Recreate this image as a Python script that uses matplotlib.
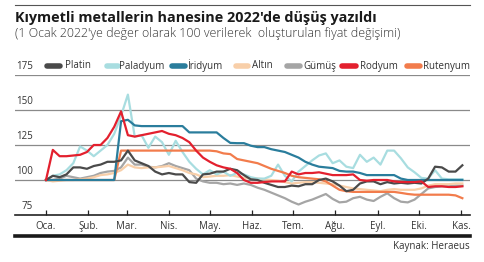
import numpy as np
import matplotlib
matplotlib.use('Agg')
import matplotlib.pyplot as plt
from matplotlib.lines import Line2D

plt.rcParams['font.family'] = ['Open Sans', 'DejaVu Sans']

# days since 1 Jan 2022, one reading every 5 days
days = np.arange(0, 306, 5)

platin = [100, 103, 102, 104, 109, 109, 108, 110, 111, 113,
          113, 114, 121, 114, 112, 110, 106, 104, 105, 104,
          104, 98.5, 98, 104, 104.5, 106, 106, 108, 107, 103.5,
          100.5, 100, 98, 96.5, 95, 95, 96, 95.5, 97, 97,
          100, 101, 99, 96, 92, 93, 97.5, 99, 99, 97,
          98.5, 97.5, 98, 97.5, 98, 97.5, 101, 109.5, 109, 106,
          106, 110.5]
paladyum = [100, 103, 104, 107, 112, 124, 121, 117, 121, 125,
            133, 146, 161, 131, 132, 123, 131, 127, 118, 128,
            120, 113, 108, 104, 107, 104, 106, 103, 105, 104,
            102, 101, 101, 103, 111, 103, 99, 106, 110, 114,
            117.5, 119, 112, 114, 109.5, 108.5, 118, 113, 116, 111,
            121, 121, 115.5, 109, 105.5, 101.5, 101, 107, 101, 100.5,
            100.5, 100.5]
iridyum = [100, 100, 100, 100, 100, 100, 100, 100, 100, 100,
           100, 142, 143, 139, 138.5, 138.5, 138.5, 138.5, 138.5, 138.5,
           138.5, 134, 134, 134, 134, 134, 130, 126.5, 126.3, 126.3,
           124.5, 123.5, 123.5, 122, 121, 120, 118, 116, 113, 111,
           109.5, 109, 108.5, 106.5, 106, 106, 105, 103.5, 103.5, 103.5,
           103.5, 103.5, 101, 100, 100, 100, 100, 100, 100, 100,
           100, 100]
altin = [100, 99, 99.5, 100, 100, 100.5, 101, 102, 103.5, 104,
         105, 107, 111, 109, 108.5, 109, 109, 109.5, 110, 108.5,
         107, 105, 104, 102, 102.5, 103, 103, 103.5, 102.5, 101.5,
         101, 101, 100.5, 100, 99.5, 98.5, 97.5, 98, 98.5, 98.5,
         98, 97.5, 97, 96, 95, 94, 93.5, 93, 92.5, 92,
         93, 93.5, 93, 93, 93, 94, 96, 97, 97, 97,
         97.5, 97.5]
gumus = [100, 100, 101, 103, 102, 101, 102, 103, 105, 106,
         106.5, 109, 116, 111, 111, 109.5, 109, 110, 112, 110,
         108.5, 107, 101, 99, 98, 98, 97, 97.5, 96.5, 97.5,
         96.5, 94.5, 93, 91, 89, 87, 84.5, 82.5, 84.5, 86,
         88, 90, 86.5, 84, 84.5, 87, 88, 86, 85, 88,
         90.5, 87, 84.5, 84, 86, 90, 94, 95, 95.5, 95.5,
         96, 96]
rodyum = [100, 121.5, 117, 117, 117.5, 118, 120, 125, 125, 130,
          138, 149, 132, 131, 132, 133, 134, 135, 133, 132,
          130, 127, 121, 116, 113, 110.5, 109, 108, 105, 100,
          98, 98, 98.5, 99, 99, 99, 106, 104, 105, 105,
          105.5, 104.5, 103.5, 103.5, 103.5, 104, 100, 99.5, 100, 100,
          100, 99, 98.5, 98.5, 98.5, 99, 95, 95.5, 95.5, 95,
          95, 95.5]
rutenyum = [100, 100, 100, 100, 100, 100, 100, 100, 100, 100,
            100, 121, 121, 121, 121, 121, 121, 121, 121, 121,
            121, 121, 121, 121, 121, 120.5, 119, 118.5, 115, 114,
            113, 112, 110, 108, 106.5, 105, 103, 102, 101.5, 101,
            100.5, 99, 96, 93, 92, 91.5, 91.5, 91.5, 91.5, 91.5,
            91.5, 91.5, 90.8, 90, 89.5, 89.5, 89.5, 89.5, 89.5, 89.5,
            89, 87]

names = ['Platin', 'Paladyum', 'İridyum', 'Altın', 'Gümüş', 'Rodyum', 'Rutenyum']
colors = ['#4a4a4a', '#a8dde0', '#2a7d9c', '#f8cfa9', '#a5a5a5', '#e3202e', '#f27c4c']
series = [platin, paladyum, iridyum, altin, gumus, rodyum, rutenyum]
draw_order = [4, 3, 1, 6, 2, 0, 5]

month_days = [0, 31, 59, 90, 120, 151, 181, 212, 243, 273, 304]
month_labels = ['Oca.', 'Şub.', 'Mar.', 'Nis.', 'May.', 'Haz.', 'Tem.', 'Ağu.',
                'Eyl.', 'Eki.', 'Kas.']
y_ticks = [75, 100, 125, 150, 175]

W, H = 484, 262
fig = plt.figure(figsize=(W / 100, H / 100), dpi=100)


def fx(px):
    return px / W


def fy(py):
    return 1 - py / H


ax = fig.add_axes([fx(15), fy(215), fx(470) - fx(15), fy(75) - fy(215)])
ax.set_xlim(-22.7, 310.6)
ax.set_ylim(75, 175)

for i in draw_order:
    ax.plot(days, series[i], color=colors[i], lw=1.6, solid_joinstyle='round',
            zorder=3 + draw_order.index(i))

for v in y_ticks[1:]:
    ax.axhline(v, color='#8a8a8a', lw=0.9, zorder=1)
ax.axhline(75, color='#222222', lw=1.2, zorder=5, clip_on=False)

for s in ax.spines.values():
    s.set_visible(False)
ax.set_yticks([])
ax.set_xticks(month_days)
ax.set_xticklabels(month_labels, fontsize=7, color='#333333')
ax.tick_params(axis='x', direction='in', length=3.5, width=0.9, color='#222222', pad=4)
ax.patch.set_alpha(0)

ylab_x = (33 - 15) / (470 - 15)
for v in y_ticks:
    ax.text(ylab_x, v + 2.2, str(v), transform=ax.get_yaxis_transform(),
            ha='right', va='bottom', fontsize=7, color='#333333')

# legend row
leg = [(47, 60, 65), (107, 118, 119), (172, 185, 187), (236, 248, 252),
       (287, 300, 303), (342, 356, 360), (407, 420, 423)]
for (x0, x1, tx), name, c in zip(leg, names, colors):
    fig.add_artist(Line2D([fx(x0), fx(x1)], [fy(66), fy(66)], color=c, lw=4,
                          solid_capstyle='round', transform=fig.transFigure))
    fig.text(fx(tx), fy(66), name, fontsize=7, color='#333333', va='center', ha='left')

fig.text(fx(15), fy(18), "Kıymetli metallerin hanesine 2022'de düşüş yazıldı",
         fontsize=10.4, fontweight='bold', color='#1a1a1a', va='center', ha='left')
fig.text(fx(15), fy(34), "(1 Ocak 2022'ye değer olarak 100 verilerek  oluşturulan fiyat değişimi)",
         fontsize=8.9, fontweight='light', color='#333333', va='center', ha='left')

fig.add_artist(Line2D([fx(15), fx(470)], [fy(5), fy(5)], color='#555555', lw=0.8,
                      transform=fig.transFigure))
fig.add_artist(Line2D([fx(15), fx(470)], [fy(236), fy(236)], color='#1a1a1a', lw=2.6,
                      transform=fig.transFigure))
fig.text(fx(470), fy(246), 'Kaynak: Heraeus', fontsize=7, color='#333333',
         va='center', ha='right')

fig.savefig('out.png', dpi=100, facecolor='white')
